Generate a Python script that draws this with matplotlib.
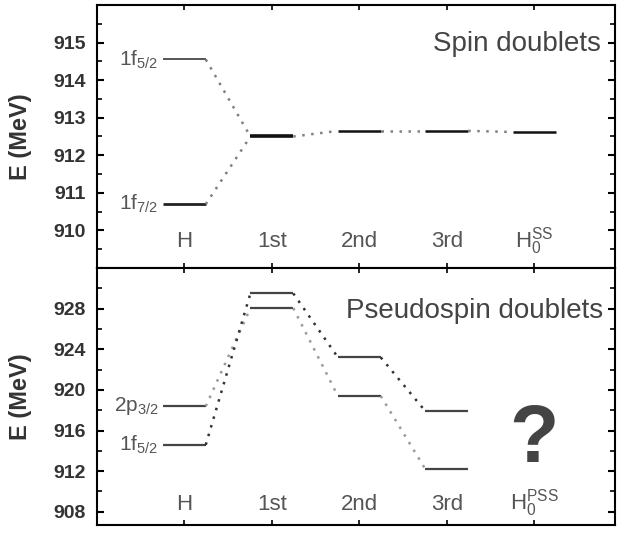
import numpy as np
import matplotlib
matplotlib.use('Agg')
import matplotlib.pyplot as plt
from matplotlib.ticker import FixedLocator, MultipleLocator

plt.rcParams['font.family'] = ['Liberation Sans', 'DejaVu Sans']
plt.rcParams['mathtext.fontset'] = 'custom'
plt.rcParams['mathtext.rm'] = 'Liberation Sans'
plt.rcParams['mathtext.it'] = 'Liberation Sans:italic'

# stages along the x axis
stages = ['H', '1st', '2nd', '3rd', 'H0']
stage_labels = ['H', '1st', '2nd', '3rd']
ss_label = r'$\mathregular{H_0^{SS}}$'
pss_label = r'$\mathregular{H_0^{PSS}}$'

# spin doublet energies (MeV): 1f5/2 and 1f7/2
spin_upper = [914.55, 912.5, 912.65, 912.65, 912.62]
spin_lower = [910.7, 912.5, 912.65, 912.65, 912.62]

# pseudospin doublet energies (MeV): 2p3/2 and 1f5/2 (no H0 value)
pseudo_upper = [918.4, 929.5, 923.2, 917.9]
pseudo_lower = [914.6, 928.05, 919.4, 912.2]

# labelled y ticks
spin_ticks = [910, 911, 912, 913, 914, 915]
pseudo_ticks = [908, 912, 916, 920, 924, 928]

W = 0.245   # half width of a level
TXT = '#555555'
DOT = (0, (1, 2.6))

fig = plt.figure(figsize=(6.21, 5.36), dpi=100)
ax1 = fig.add_axes([0.156, 0.5, 0.834, 0.4907])
ax2 = fig.add_axes([0.156, 0.0205, 0.834, 0.4795])

x = np.arange(1, len(stages) + 1)


def style_axis(ax, ylim, ticks, minor):
    ax.set_xlim(0, 5.92)
    ax.set_ylim(*ylim)
    ax.set_xticks(x)
    ax.set_xticklabels([])
    ax.yaxis.set_major_locator(FixedLocator(ticks))
    ax.yaxis.set_minor_locator(MultipleLocator(minor))
    ax.tick_params(axis='x', which='both', direction='in', top=True, bottom=True,
                   length=3.5, width=1.2)
    ax.tick_params(axis='y', which='major', direction='in', left=True, right=True,
                   length=5, width=1.5, labelsize=14, pad=8, labelcolor='#333333')
    ax.tick_params(axis='y', which='minor', direction='in', left=True, right=True,
                   length=3.5, width=1.2)
    for lab in ax.get_yticklabels():
        lab.set_fontweight('bold')
    for sp in ax.spines.values():
        sp.set_linewidth(1.5)
    ax.set_ylabel('E (MeV)', fontsize=17, fontweight='bold', color='#333333')
    ax.yaxis.set_label_coords(-0.125, 0.5)


def level(ax, xc, y, color='#333333', lw=1.6):
    ax.plot([xc - W, xc + W], [y, y], color=color, lw=lw, solid_capstyle='butt')


def link(ax, x0, y0, x1, y1, color='#555555'):
    ax.plot([x0 + W, x1 - W], [y0, y1], color=color, lw=1.8, linestyle=DOT)


# ---- spin doublets ----
style_axis(ax1, (909.0, 916.0), spin_ticks, 0.5)
level(ax1, x[0], spin_upper[0], color='#555555', lw=1.4)
level(ax1, x[0], spin_lower[0], color='#222222', lw=2.0)
link(ax1, x[0], spin_upper[0], x[1], spin_upper[1], color='#808080')
link(ax1, x[0], spin_lower[0], x[1], spin_lower[1], color='#808080')
for i in range(1, len(stages)):
    level(ax1, x[i], spin_upper[i], color='#111111', lw=2.6 if i == 1 else 1.8)
    if i < len(stages) - 1:
        link(ax1, x[i], spin_upper[i], x[i + 1], spin_upper[i + 1], color='#808080')

ax1.text(x[0] - W - 0.05, spin_upper[0], r'$\mathregular{1f_{5/2}}$', ha='right',
         va='center', fontsize=15, color=TXT)
ax1.text(x[0] - W - 0.05, spin_lower[0], r'$\mathregular{1f_{7/2}}$', ha='right',
         va='center', fontsize=15, color=TXT)
for xi, s in zip(x[:4], stage_labels):
    ax1.text(xi, 909.55, s, ha='center', va='baseline', fontsize=16, color=TXT)
ax1.text(x[4], 909.55, ss_label, ha='center', va='baseline', fontsize=16, color=TXT)
ax1.text(5.76, 914.95, 'Spin doublets', ha='right', va='center', fontsize=20, color='#444444')

# ---- pseudospin doublets ----
style_axis(ax2, (906.7, 932.0), pseudo_ticks, 2)
for i in range(len(pseudo_upper)):
    level(ax2, x[i], pseudo_upper[i], color='#444444')
    level(ax2, x[i], pseudo_lower[i], color='#444444')
# crossing links between H and 1st
link(ax2, x[0], pseudo_upper[0], x[1], pseudo_lower[1], color='#999999')
link(ax2, x[0], pseudo_lower[0], x[1], pseudo_upper[1], color='#333333')
for i in range(1, len(pseudo_upper) - 1):
    link(ax2, x[i], pseudo_upper[i], x[i + 1], pseudo_upper[i + 1], color='#333333')
    link(ax2, x[i], pseudo_lower[i], x[i + 1], pseudo_lower[i + 1], color='#999999')

ax2.text(x[0] - W - 0.05, pseudo_upper[0], r'$\mathregular{2p_{3/2}}$', ha='right',
         va='center', fontsize=15, color=TXT)
ax2.text(x[0] - W - 0.05, pseudo_lower[0], r'$\mathregular{1f_{5/2}}$', ha='right',
         va='center', fontsize=15, color=TXT)
for xi, s in zip(x[:4], stage_labels):
    ax2.text(xi, 908.2, s, ha='center', va='baseline', fontsize=16, color=TXT)
ax2.text(x[4], 908.2, pss_label, ha='center', va='baseline', fontsize=16, color=TXT)
ax2.text(5.79, 927.8, 'Pseudospin doublets', ha='right', va='center', fontsize=20,
         color='#444444')
ax2.text(x[4], 915.0, '?', ha='center', va='center', fontsize=58, fontweight='bold',
         color='#444444')

fig.savefig('out.png', dpi=100)
